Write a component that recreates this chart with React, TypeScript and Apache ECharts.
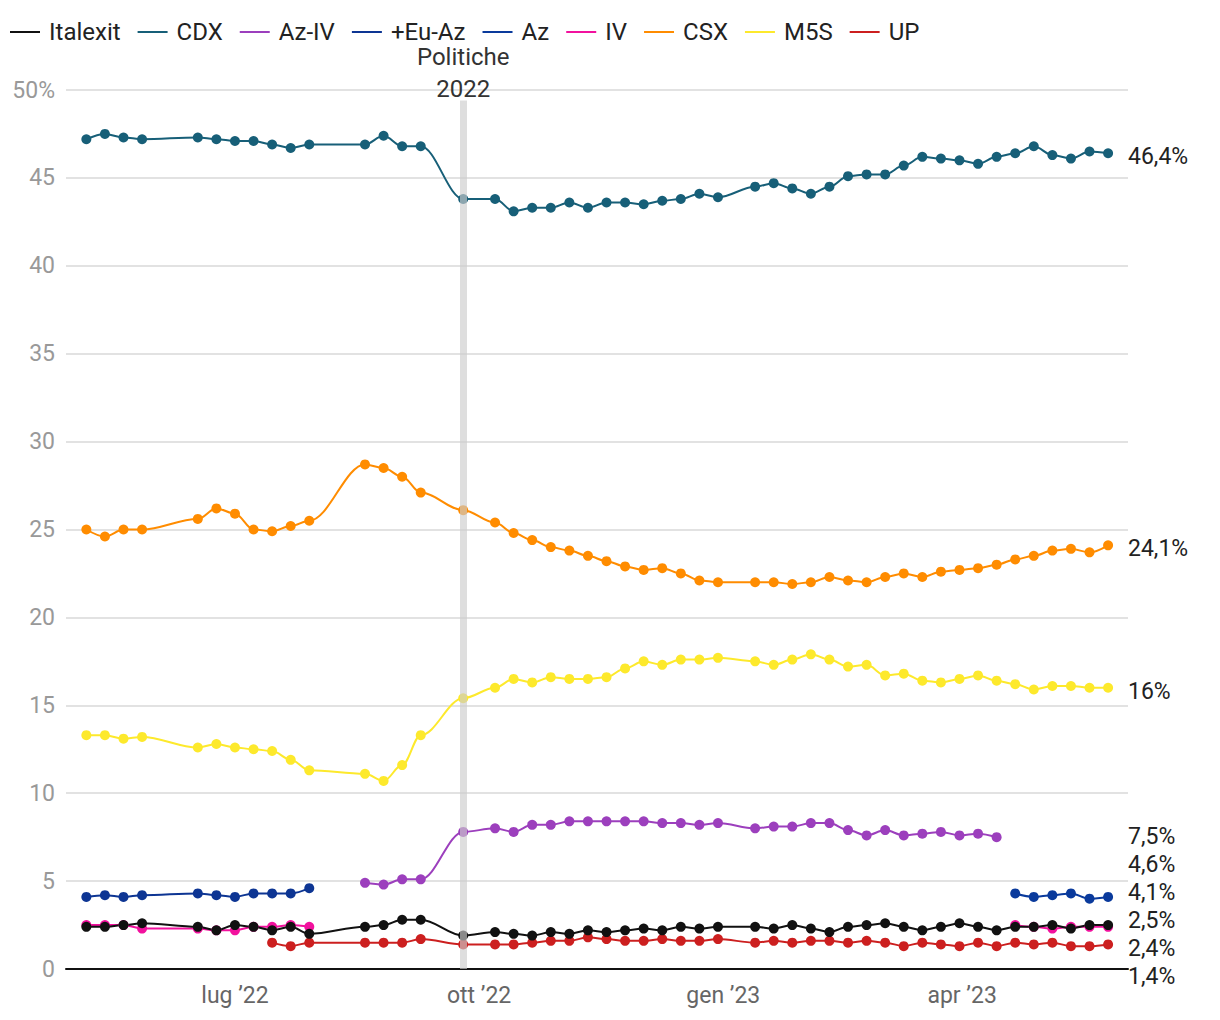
import React, { useEffect, useRef } from "react";
import * as echarts from "echarts";

const dates = [
  "2022-05-06", "2022-05-13", "2022-05-20", "2022-05-27",
  "2022-06-17", "2022-06-24", "2022-07-01", "2022-07-08", "2022-07-15", "2022-07-22", "2022-07-29",
  "2022-08-19", "2022-08-26", "2022-09-02", "2022-09-09",
  "2022-09-25",
  "2022-10-07", "2022-10-14", "2022-10-21", "2022-10-28", "2022-11-04", "2022-11-11", "2022-11-18", "2022-11-25", "2022-12-02", "2022-12-09", "2022-12-16", "2022-12-23", "2022-12-30",
  "2023-01-13", "2023-01-20", "2023-01-27", "2023-02-03", "2023-02-10", "2023-02-17", "2023-02-24", "2023-03-03", "2023-03-10", "2023-03-17", "2023-03-24", "2023-03-31", "2023-04-07", "2023-04-14", "2023-04-21", "2023-04-28", "2023-05-05", "2023-05-12", "2023-05-19", "2023-05-26",
];

const N = null;
const italexit = [2.4, 2.4, 2.5, 2.6, 2.4, 2.2, 2.5, 2.4, 2.2, 2.4, 2.0, 2.4, 2.5, 2.8, 2.8, 1.9, 2.1, 2.0, 1.9, 2.1, 2.0, 2.2, 2.1, 2.2, 2.3, 2.2, 2.4, 2.3, 2.4, 2.4, 2.3, 2.5, 2.3, 2.1, 2.4, 2.5, 2.6, 2.4, 2.2, 2.4, 2.6, 2.4, 2.2, 2.4, 2.4, 2.5, 2.3, 2.5, 2.5];
const cdx = [47.2, 47.5, 47.3, 47.2, 47.3, 47.2, 47.1, 47.1, 46.9, 46.7, 46.9, 46.9, 47.4, 46.8, 46.8, 43.8, 43.8, 43.1, 43.3, 43.3, 43.6, 43.3, 43.6, 43.6, 43.5, 43.7, 43.8, 44.1, 43.9, 44.5, 44.7, 44.4, 44.1, 44.5, 45.1, 45.2, 45.2, 45.7, 46.2, 46.1, 46.0, 45.8, 46.2, 46.4, 46.8, 46.3, 46.1, 46.5, 46.4];
const azIv = [N, N, N, N, N, N, N, N, N, N, N, 4.9, 4.8, 5.1, 5.1, 7.8, 8.0, 7.8, 8.2, 8.2, 8.4, 8.4, 8.4, 8.4, 8.4, 8.3, 8.3, 8.2, 8.3, 8.0, 8.1, 8.1, 8.3, 8.3, 7.9, 7.6, 7.9, 7.6, 7.7, 7.8, 7.6, 7.7, 7.5, N, N, N, N, N, N];
const euAz = [4.1, 4.2, 4.1, 4.2, 4.3, 4.2, 4.1, 4.3, 4.3, 4.3, 4.6, N, N, N, N, N, N, N, N, N, N, N, N, N, N, N, N, N, N, N, N, N, N, N, N, N, N, N, N, N, N, N, N, N, N, N, N, N, N];
const az = [N, N, N, N, N, N, N, N, N, N, N, N, N, N, N, N, N, N, N, N, N, N, N, N, N, N, N, N, N, N, N, N, N, N, N, N, N, N, N, N, N, N, N, 4.3, 4.1, 4.2, 4.3, 4.0, 4.1];
const iv = [2.5, 2.5, 2.5, 2.3, 2.3, 2.2, 2.2, 2.4, 2.4, 2.5, 2.4, N, N, N, N, N, N, N, N, N, N, N, N, N, N, N, N, N, N, N, N, N, N, N, N, N, N, N, N, N, N, N, N, 2.5, 2.4, 2.3, 2.4, 2.4, 2.4];
const csx = [25.0, 24.6, 25.0, 25.0, 25.6, 26.2, 25.9, 25.0, 24.9, 25.2, 25.5, 28.7, 28.5, 28.0, 27.1, 26.1, 25.4, 24.8, 24.4, 24.0, 23.8, 23.5, 23.2, 22.9, 22.7, 22.8, 22.5, 22.1, 22.0, 22.0, 22.0, 21.9, 22.0, 22.3, 22.1, 22.0, 22.3, 22.5, 22.3, 22.6, 22.7, 22.8, 23.0, 23.3, 23.5, 23.8, 23.9, 23.7, 24.1];
const m5s = [13.3, 13.3, 13.1, 13.2, 12.6, 12.8, 12.6, 12.5, 12.4, 11.9, 11.3, 11.1, 10.7, 11.6, 13.3, 15.4, 16.0, 16.5, 16.3, 16.6, 16.5, 16.5, 16.6, 17.1, 17.5, 17.3, 17.6, 17.6, 17.7, 17.5, 17.3, 17.6, 17.9, 17.6, 17.2, 17.3, 16.7, 16.8, 16.4, 16.3, 16.5, 16.7, 16.4, 16.2, 15.9, 16.1, 16.1, 16.0, 16.0];
const up = [N, N, N, N, N, N, N, N, 1.5, 1.3, 1.5, 1.5, 1.5, 1.5, 1.7, 1.4, 1.4, 1.4, 1.5, 1.6, 1.6, 1.8, 1.7, 1.6, 1.6, 1.7, 1.6, 1.6, 1.7, 1.5, 1.6, 1.5, 1.6, 1.6, 1.5, 1.6, 1.5, 1.3, 1.5, 1.4, 1.3, 1.5, 1.3, 1.5, 1.4, 1.5, 1.3, 1.3, 1.4];

const partyNames = ["Italexit", "CDX", "Az-IV", "+Eu-Az", "Az", "IV", "CSX", "M5S", "UP"];
const partyValues = [italexit, cdx, azIv, euAz, az, iv, csx, m5s, up];
const partyColors = ["#111111", "#175f78", "#9c3fbd", "#0d3593", "#0a3a9c", "#f2119e", "#ff8c00", "#fde92c", "#cc1f1f"];
// drawing order (later = on top)
const drawOrder = ["IV", "UP", "Italexit", "+Eu-Az", "Az", "Az-IV", "M5S", "CSX", "CDX"];

const electionDate = "2022-09-25";
const electionLabel = "Politiche\n2022";
const xMin = "2022-04-28T08:00:00Z";
const xMax = "2023-06-02T12:00:00Z";
const xTickDates = ["2022-07-01", "2022-10-01", "2023-01-01", "2023-04-01"];
const xTickLabels = ["lug ’22", "ott ’22", "gen ’23", "apr ’23"];

const FONT = "Roboto, 'Noto Sans', sans-serif";
const TXT = 23;

function ts(d: string) {
  return d.length > 10 ? Date.parse(d) : Date.parse(d + "T00:00:00Z");
}

export default function App() {
  const ref = useRef<HTMLDivElement>(null);
  useEffect(() => {
    const chart = echarts.init(ref.current!, null, { renderer: "svg" });
    const tickTs = xTickDates.map(ts);

    const series: any[] = drawOrder.map((name) => {
      const i = partyNames.indexOf(name);
      const vals = partyValues[i];
      const data: any[] = [];
      let started = false;
      let lastIdx = -1;
      vals.forEach((v, j) => { if (v !== null) lastIdx = j; });
      vals.forEach((v, j) => {
        if (v !== null) started = true;
        if (started && j <= lastIdx) data.push([ts(dates[j]), v === null ? "-" : v]);
      });
      return {
        name,
        type: "line",
        data,
        z: 2,
        color: partyColors[i],
        symbol: "circle",
        symbolSize: 10,
        showSymbol: true,
        smooth: 0.35,
        smoothMonotone: "x",
        connectNulls: false,
        lineStyle: { width: 2, color: partyColors[i] },
        itemStyle: { color: partyColors[i] },
        emphasis: { disabled: true },
      };
    });

    series.push({
      name: "election",
      type: "line",
      data: [],
      z: 10,
      markLine: {
        silent: true,
        symbol: ["none", "none"],
        lineStyle: { color: "rgba(205,205,205,0.65)", width: 7, type: "solid" },
        label: {
          show: true,
          position: "end",
          formatter: electionLabel,
          fontSize: 24,
          lineHeight: 32,
          color: "#333",
          fontFamily: FONT,
          distance: -4,
        },
        data: [[{ coord: [ts(electionDate), 0] }, { coord: [ts(electionDate), 49.4] }]],
      },
    });

    const option: any = {
      animation: false,
      textStyle: { fontFamily: FONT },
      legend: {
        left: 5,
        top: 15,
        data: partyNames.map((n, i) => ({ name: n, icon: "rect", itemStyle: { color: partyColors[i] } })),
        itemWidth: 30,
        itemHeight: 2,
        itemGap: 17,
        textStyle: { fontSize: 24, color: "#222", fontFamily: FONT, padding: [0, 0, 0, 4] },
        selectedMode: false,
      },
      grid: { left: 66, right: 92, top: 90, bottom: 51, containLabel: false },
      xAxis: {
        type: "value",
        min: ts(xMin),
        max: ts(xMax),
        axisLine: { show: true, onZero: false, lineStyle: { color: "#111", width: 2 } },
        axisTick: { show: false },
        splitLine: { show: false },
        axisLabel: {
          customValues: tickTs,
          formatter: (v: number) => {
            const k = tickTs.indexOf(v);
            return k >= 0 ? xTickLabels[k] : "";
          },
          fontSize: TXT,
          color: "#666",
          fontFamily: FONT,
          margin: 15,
        },
      },
      yAxis: {
        type: "value",
        min: 0,
        max: 50,
        interval: 5,
        axisLine: { show: false },
        axisTick: { show: false },
        splitLine: { show: true, lineStyle: { color: "#e2e2e2", width: 2 } },
        axisLabel: {
          formatter: (v: number) => (v === 50 ? "50%" : String(v)),
          fontSize: TXT,
          color: "#999",
          fontFamily: FONT,
          margin: 11,
        },
      },
      series,
    };
    chart.setOption(option);

    // End labels with collision avoidance
    const items = partyNames.map((name, i) => {
      const vals = partyValues[i];
      let last: number | null = null;
      let lastIdx = -1;
      vals.forEach((v, j) => { if (v !== null) { last = v; lastIdx = j; } });
      const p = chart.convertToPixel({ gridIndex: 0 }, [ts(dates[lastIdx]), last as any]) as number[];
      return { name, v: last as unknown as number, target: p[1] + 5, pos: p[1] + 5 };
    });
    items.sort((a, b) => a.target - b.target);
    const gap = 28;
    let clusters = items.map((it) => ({ members: [it], center: it.target }));
    const layout = (c: any) => {
      const n = c.members.length;
      c.members.forEach((m: any, k: number) => { m.pos = c.center - ((n - 1) / 2) * gap + k * gap; });
    };
    let changed = true;
    while (changed) {
      changed = false;
      for (let k = 1; k < clusters.length; k++) {
        const a = clusters[k - 1];
        const b = clusters[k];
        layout(a); layout(b);
        const aBottom = a.members[a.members.length - 1].pos;
        const bTop = b.members[0].pos;
        if (bTop - aBottom < gap) {
          const members = a.members.concat(b.members);
          const center = members.reduce((s: number, m: any) => s + m.target, 0) / members.length;
          clusters.splice(k - 1, 2, { members, center });
          changed = true;
          break;
        }
      }
    }
    clusters.forEach(layout);
    const gridRight = 1220 - 92;
    const graphic = items.map((it) => ({
      type: "text",
      left: gridRight,
      top: it.pos - 13,
      silent: true,
      style: {
        text: String(it.v).replace(".", ",") + "%",
        fontSize: TXT,
        fill: "#222",
        fontFamily: FONT,
      },
    }));
    chart.setOption({ graphic });

    return () => chart.dispose();
  }, []);
  return <div ref={ref} style={{ position: "absolute", left: 0, top: 0, width: 1220, height: 1020 }} />;
}
